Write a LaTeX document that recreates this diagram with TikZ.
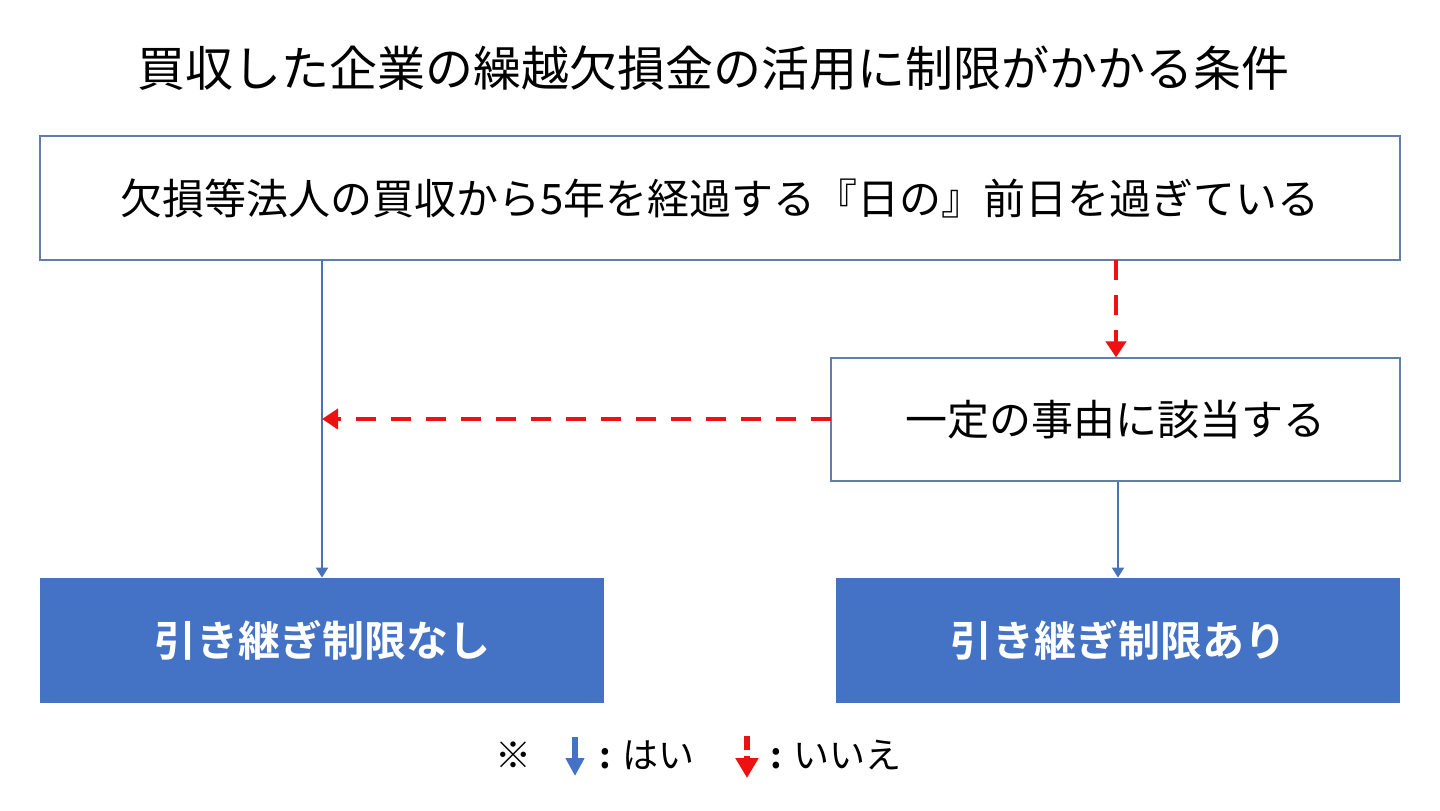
\documentclass[tikz,border=0pt]{standalone}
\usepackage{fontspec}
\setmainfont{Noto Sans CJK JP}[BoldFont={Noto Sans CJK JP Bold}]
\usetikzlibrary{arrows.meta}
\definecolor{fillblue}{HTML}{4472C4}
\definecolor{lineblue}{HTML}{4A72B8}
\definecolor{boxline}{HTML}{5F7FA8}
\definecolor{nored}{HTML}{EE1111}
\tikzset{
  qbox/.style={draw=boxline, line width=0.6pt, fill=white, inner sep=0pt, font=\fontsize{21}{25}\selectfont},
  resbox/.style={fill=fillblue, inner sep=0pt, text=white, font=\fontsize{21}{25}\selectfont\bfseries},
  yesline/.style={draw=lineblue, line width=1pt, -{Triangle[length=5pt,width=6pt]}},
  noline/.style={draw=nored, line width=2.2pt, dash pattern=on 10pt off 7.5pt, -{Triangle[length=8pt,width=10pt]}},
  legend/.style={font=\fontsize{18}{21}\selectfont},
}
\begin{document}
\begin{tikzpicture}[x=0.5pt,y=-0.5pt]
\useasboundingbox (0,0) rectangle (1440,810);
\node[font=\fontsize{24}{28}\selectfont] (title) at (713,68) {買収した企業の繰越欠損金の活用に制限がかかる条件};
\node[qbox, minimum width=680pt, minimum height=62pt] (q1) at (720,198) {欠損等法人の買収から5年を経過する『日の』前日を過ぎている};
\node[qbox, minimum width=284.5pt, minimum height=61.5pt] (q2) at (1115.5,419.5) {一定の事由に該当する};
\node[resbox, minimum width=282pt, minimum height=62.5pt] (r1) at (322,640.5) {引き継ぎ制限なし};
\node[resbox, minimum width=282pt, minimum height=62.5pt] (r2) at (1118,640.5) {引き継ぎ制限あり};
\coordinate (q1yes) at (322,260);
\coordinate (q1no) at (1116,260);
\coordinate (q2no) at (831,419);
\coordinate (join) at (322,419);
\draw[yesline] (q1yes) -- (r1.north -| q1yes);
\draw[noline] (q1no) -- (q1no |- q2.north);
\draw[noline] (q2no) -- (join);
\draw[yesline] (q2.south -| r2) -- (r2.north);
% legend
\node[legend] (note) at (513,755) {※};
\coordinate (ya) at (575,737);
\coordinate (yb) at (575,776);
\draw[fillblue, line width=3pt, -{Triangle[length=9pt,width=9pt]}] (ya) -- (yb);
\node[legend, anchor=west] (yes) at (592,755) {\textbf{:}\,\,はい};
\coordinate (na) at (747,736);
\coordinate (nb) at (747,778);
\draw[nored, line width=3.2pt, dash pattern=on 7pt off 3pt, -{Triangle[length=10pt,width=11pt]}] (na) -- (nb);
\node[legend, anchor=west] (no) at (763,755) {\textbf{:}\,\,いいえ};
\end{tikzpicture}
\end{document}
